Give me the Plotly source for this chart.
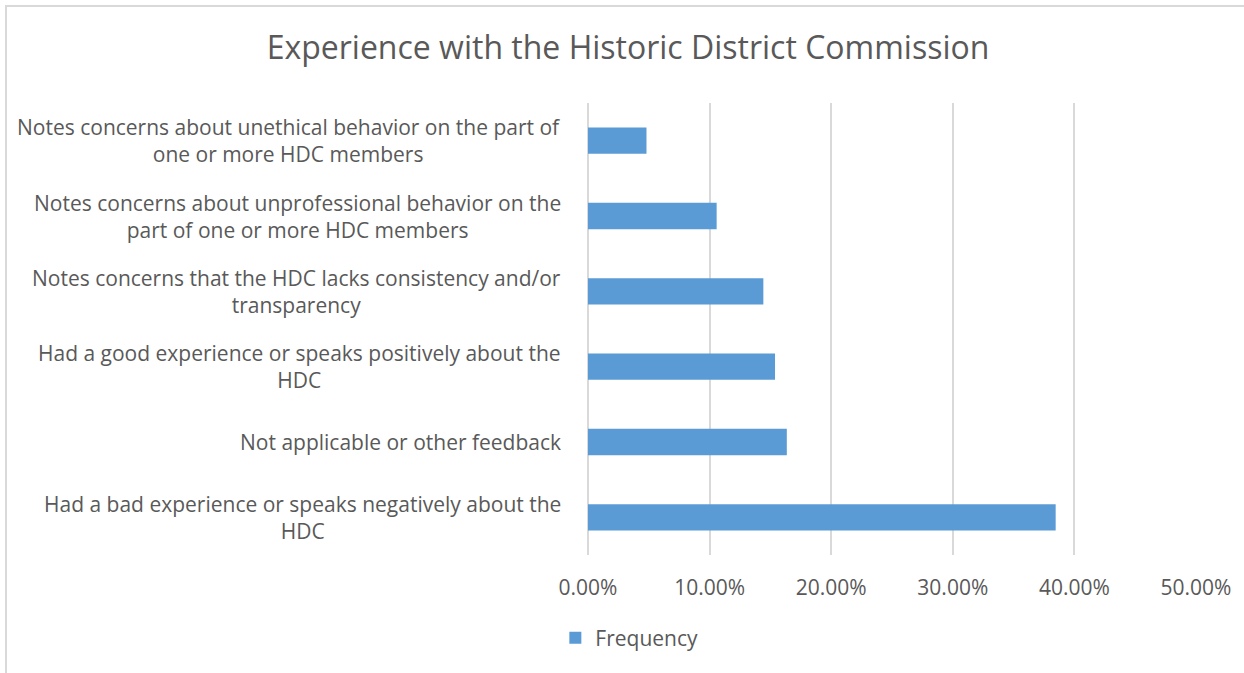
import plotly.graph_objects as go

# categories listed bottom to top, as Excel draws them
categories = [
    'Had a bad experience or speaks negatively about the<br>HDC',
    'Not applicable or other feedback',
    'Had a good experience or speaks positively about the<br>HDC',
    'Notes concerns that the HDC lacks consistency and/or<br>transparency',
    'Notes concerns about unprofessional behavior on the<br>part of one or more HDC members',
    'Notes concerns about unethical behavior on the part of<br>one or more HDC members',
]
frequency = [0.3846, 0.1635, 0.1538, 0.1442, 0.1058, 0.0481]
x_ticks = [0, 0.1, 0.2, 0.3, 0.4, 0.5]

text_color = '#595959'
grid_color = '#d9d9d9'
bar_color = '#5b9bd5'
font_family = 'Open Sans'

W, H = 1244, 673
L, R, T, B = 588, 48, 103, 118
plot_w = W - L - R
plot_h = H - T - B

fig = go.Figure()

fig.add_trace(go.Bar(
    y=categories,
    x=frequency,
    orientation='h',
    name='Frequency',
    marker=dict(color=bar_color, line=dict(width=0)),
))

# category labels as centred annotations (Excel centres wrapped lines)
for cat in categories:
    fig.add_annotation(
        x=0, xref='paper', xanchor='right', xshift=-25,
        y=cat, yref='y', yanchor='middle',
        text=cat, showarrow=False, align='center',
        font=dict(family=font_family, size=21, color=text_color),
    )

# outer chart border (only left and top edges fall inside the picture)
fig.add_shape(type='rect', xref='paper', yref='paper',
              x0=(6 - L) / plot_w, y0=-0.6,
              x1=1.1, y1=(H - B - 6) / plot_h,
              line=dict(color=grid_color, width=2), fillcolor='rgba(0,0,0,0)',
              layer='below')

fig.update_layout(
    width=W,
    height=H,
    margin=dict(l=L, r=R, t=T, b=B),
    paper_bgcolor='white',
    plot_bgcolor='white',
    font=dict(family=font_family, color=text_color),
    title=dict(
        text='Experience with the Historic District Commission',
        x=628 / W, xref='container', xanchor='center',
        y=1 - 48 / H, yref='container', yanchor='middle',
        font=dict(family=font_family, size=32, color=text_color),
    ),
    bargap=0.65,
    showlegend=True,
    legend=dict(
        orientation='h',
        x=0.068, xanchor='center',
        y=(H - B - 638) / plot_h, yanchor='middle',
        font=dict(family=font_family, size=21, color=text_color),
        itemwidth=30,
    ),
    xaxis=dict(
        range=[0, 0.5],
        tickvals=x_ticks,
        tickformat='.2%',
        showgrid=True,
        gridcolor=grid_color,
        gridwidth=1.5,
        zeroline=True,
        zerolinecolor=grid_color,
        zerolinewidth=1.5,
        showline=False,
        ticks='outside',
        ticklen=14,
        tickcolor='rgba(0,0,0,0)',
        tickfont=dict(family=font_family, size=21, color=text_color),
        fixedrange=True,
    ),
    yaxis=dict(
        showticklabels=False,
        showgrid=False,
        zeroline=False,
        showline=False,
        fixedrange=True,
    ),
)

# drop the default page margin so the figure sits at the window corner
fig.write_html("out.html", config={'displayModeBar': False},
               post_script="document.body.style.margin='0px';")
